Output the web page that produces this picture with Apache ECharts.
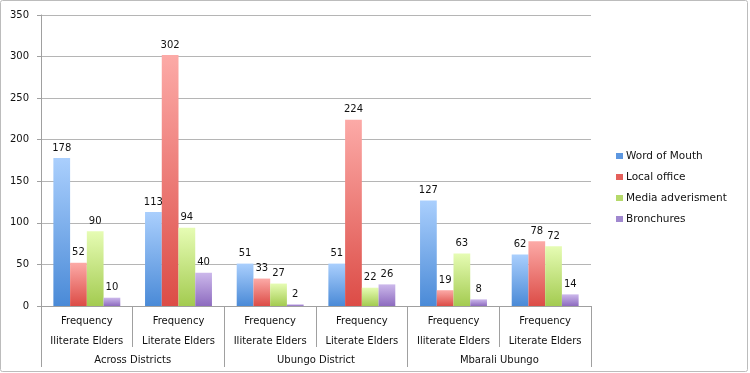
<!DOCTYPE html>
<html>
<head>
<meta charset="utf-8">
<script src="https://cdn.jsdelivr.net/npm/echarts@6/dist/echarts.min.js"></script>
<style>html,body{margin:0;padding:0;background:#fff}#c{width:750px;height:373px}</style>
</head>
<body>
<div id="c"></div>
<script>
const categories = ['Frequency\nIliterate Elders','Frequency\nLiterate Elders','Frequency\nIliterate Elders','Frequency\nLiterate Elders','Frequency\nIliterate Elders','Frequency\nLiterate Elders'];
const districts = ['Across Districts','Ubungo District','Mbarali Ubungo'];
const seriesNames = ['Word of Mouth','Local office','Media adverisment','Bronchures'];
const wordOfMouth = [178, 113, 51, 51, 127, 62];
const localOffice = [52, 302, 33, 224, 19, 78];
const mediaAdv = [90, 94, 27, 22, 63, 72];
const bronchures = [10, 40, 2, 26, 8, 14];
const yTicks = {min: 0, max: 350, interval: 50};

const grads = [
  ['#aacffd', '#4a8ad7'],
  ['#fcaaa7', '#dc4c46'],
  ['#e6fcb4', '#a3cb50'],
  ['#ccb8eb', '#8d6bbf']
];
const legendCols = ['#5d97e0', '#e5605b', '#b5d96a', '#a088cf'];
function grad(i){
  return new echarts.graphic.LinearGradient(0,0,0,1,[{offset:0,color:grads[i][0]},{offset:1,color:grads[i][1]}]);
}
const values = [wordOfMouth, localOffice, mediaAdv, bronchures];
const font = 'DejaVu Sans, Verdana, sans-serif';
const chart = echarts.init(document.getElementById('c'), null, {renderer:'canvas'});
chart.setOption({
  animation: false,
  textStyle: {fontFamily: font},
  graphic: [{type:'rect', shape:{x:0.5,y:0.5,width:747,height:371,r:2}, style:{fill:'none', stroke:'#bcbcbc', lineWidth:1}, z:-1}],
  grid: {left: 41, right: 159, top: 15, bottom: 67},
  legend: {
    orient: 'vertical', left: 611, top: 145,
    itemWidth: 7, itemHeight: 6, itemGap: 9,
    icon: 'rect',
    textStyle: {fontFamily: font, fontSize: 10.5, color: '#111', lineHeight: 12, padding: [0,0,0,-2]},
    data: seriesNames.map((n,i)=>({name:n, itemStyle:{color:legendCols[i]}}))
  },
  xAxis: [{
    type: 'category', data: categories, position: 'bottom',
    axisLine: {show: true, lineStyle: {color: '#a0a0a0'}},
    axisTick: {show: true, length: 41, lineStyle: {color: '#a0a0a0'}},
    axisLabel: {interval: 0, margin: 5, fontSize: 10, color: '#111', lineHeight: 20, fontFamily: font}
  },{
    type: 'category', data: districts, position: 'bottom',
    axisLine: {show: false},
    axisTick: {show: true, length: 61, lineStyle: {color: '#a0a0a0'}},
    axisLabel: {interval: 0, margin: 47, fontSize: 10, color: '#111', lineHeight: 14, fontFamily: font}
  }],
  yAxis: {
    type: 'value', min: yTicks.min, max: yTicks.max, interval: yTicks.interval,
    axisLine: {show: true, lineStyle: {color: '#a0a0a0'}},
    axisTick: {show: true, length: 4, lineStyle: {color: '#a0a0a0'}},
    axisLabel: {fontSize: 10, color: '#111', margin: 12, fontFamily: font},
    splitLine: {lineStyle: {color: '#b5b5b5'}}
  },
  series: seriesNames.map((n,i)=>({
    name: n, type: 'bar', xAxisIndex: 0, data: values[i],
    barGap: '0%', barCategoryGap: '27%',
    itemStyle: {color: grad(i)},
    label: {show: true, position: 'top', distance: 5, fontSize: 10, color: '#111', fontFamily: font}
  }))
});
</script>
</body>
</html>
